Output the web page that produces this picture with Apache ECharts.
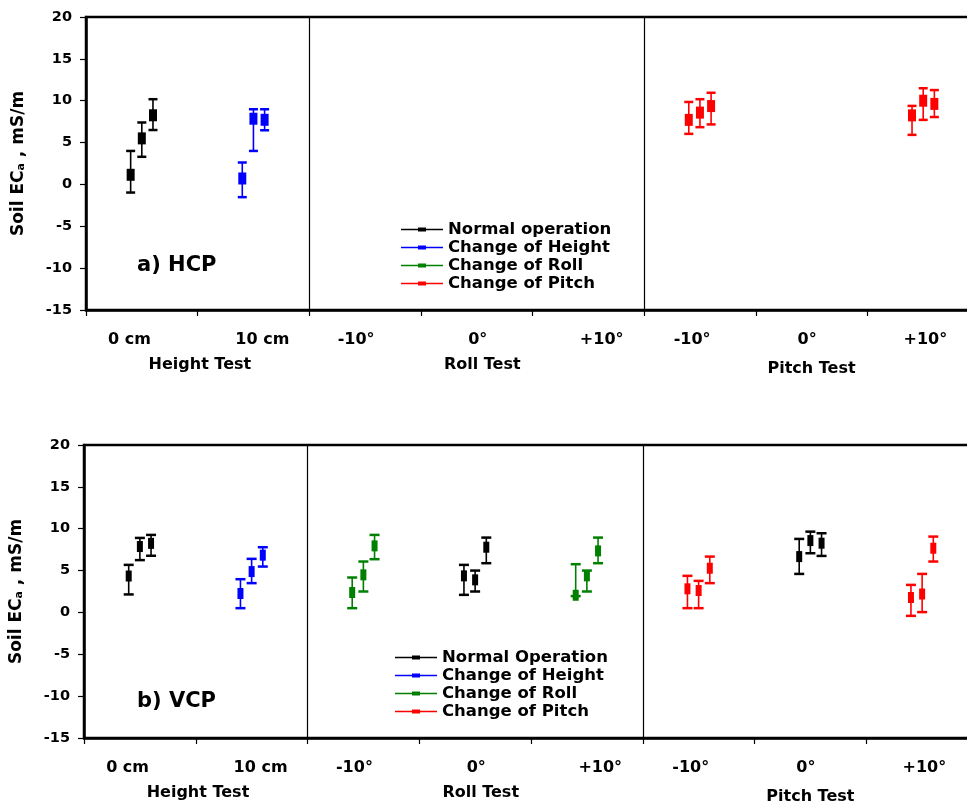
<!DOCTYPE html>
<html>
<head>
<meta charset="UTF-8" />
<title></title>
<style type="text/css">
  html, body { margin: 0; padding: 0; background: #fff; overflow: hidden; }
  #chart { width: 967px; height: 807px; }
</style>
</head>
<body>
<div id="chart"></div>
<script src="https://cdn.jsdelivr.net/npm/echarts@6/dist/echarts.min.js"></script>
<script type="text/javascript">
  // x is in tick units: one unit per test condition, three replicates per condition
  const catNames = ["0 cm", "10 cm", "-10°", "0°", "+10°", "-10°", "0°", "+10°"];
  const catPos = [0.39, 1.58, 2.42, 3.51, 4.62, 5.43, 6.46, 7.52];
  const groupNames = ["Height Test", "Roll Test", "{low|Pitch Test}"];
  const groupPos = [1.02, 3.55, 6.5];
  const dividers = [2, 5];

  // rows are [x, mean, low, high]
  const hcpNormal = [
    [0.4, 1.15, -0.97, 4.0], [0.5, 5.5, 3.3, 7.4], [0.6, 8.26, 6.5, 10.18]
  ];
  const hcpHeight = [
    [1.4, 0.71, -1.52, 2.62], [1.5, 7.85, 4.0, 8.98], [1.6, 7.72, 6.47, 8.98]
  ];
  const hcpPitch = [
    [5.4, 7.71, 6.04, 9.85], [5.5, 8.58, 6.84, 10.18], [5.6, 9.36, 7.17, 10.95],
    [7.4, 8.25, 5.92, 9.38], [7.5, 10.0, 7.71, 11.49], [7.6, 9.62, 8.05, 11.27]
  ];

  const vcpNormal = [
    [0.4, 4.35, 2.15, 5.68], [0.5, 7.87, 6.25, 8.9], [0.6, 8.25, 6.77, 9.26],
    [3.4, 4.37, 2.1, 5.68], [3.5, 3.89, 2.5, 5.0], [3.6, 7.79, 5.88, 8.94],
    [6.4, 6.67, 4.6, 8.78], [6.5, 8.58, 7.07, 9.65], [6.6, 8.27, 6.75, 9.46]
  ];
  const vcpHeight = [
    [1.4, 2.26, 0.51, 3.97], [1.5, 4.88, 3.5, 6.4], [1.6, 6.84, 5.48, 7.79]
  ];
  const vcpRoll = [
    [2.4, 2.38, 0.51, 4.17], [2.5, 4.49, 2.5, 6.08], [2.6, 7.95, 6.36, 9.26],
    [4.4, 2.05, 1.95, 5.76], [4.5, 4.37, 2.5, 5.0], [4.6, 7.35, 5.88, 8.94]
  ];
  const vcpPitch = [
    [5.4, 2.82, 0.51, 4.37], [5.5, 2.62, 0.51, 3.77], [5.6, 5.28, 3.5, 6.67],
    [7.4, 1.78, -0.41, 3.29], [7.5, 2.2, 0.04, 4.6], [7.6, 7.67, 6.08, 9.06]
  ];

  const FONT = "'DejaVu Sans', sans-serif";
  const legendIcon = "path://M0,1.3L42,1.3L42,2.7L0,2.7Z M17,0L25,0L25,4L17,4Z";

  const errorBars = function (capW, boxW, boxH) {
    return function (params, api) {
      const x = api.value(0);
      const mid = api.coord([x, api.value(1)]);
      const lo = api.coord([x, api.value(2)]);
      const hi = api.coord([x, api.value(3)]);
      const c = api.visual("color");
      return {
        type: "group",
        children: [
          { type: "line", shape: { x1: mid[0], y1: lo[1], x2: mid[0], y2: hi[1] }, style: { stroke: c, lineWidth: 1.6 } },
          { type: "line", shape: { x1: mid[0] - capW / 2, y1: hi[1], x2: mid[0] + capW / 2, y2: hi[1] }, style: { stroke: c, lineWidth: 2.5 } },
          { type: "line", shape: { x1: mid[0] - capW / 2, y1: lo[1], x2: mid[0] + capW / 2, y2: lo[1] }, style: { stroke: c, lineWidth: 2.5 } },
          { type: "rect", shape: { x: mid[0] - boxW / 2, y: mid[1] - boxH / 2, width: boxW, height: boxH }, style: { fill: c } }
        ]
      };
    };
  };

  const nearestName = function (names, positions) {
    return function (v) {
      let k = 0;
      for (let i = 1; i < positions.length; i++) {
        if (Math.abs(positions[i] - v) < Math.abs(positions[k] - v)) k = i;
      }
      return names[k];
    };
  };

  const boldText = { fontFamily: FONT, fontWeight: "bold", color: "#000" };

  const makeXAxes = function (gridIndex) {
    return [
      {
        type: "value", gridIndex: gridIndex, position: "bottom", min: 0, max: 8, interval: 1,
        axisLine: { onZero: false, lineStyle: { color: "#000", width: 2.5 } },
        axisTick: { show: true, length: 6, lineStyle: { color: "#000", width: 1.2 } },
        axisLabel: { show: false },
        splitLine: { show: false }
      },
      {
        type: "value", gridIndex: gridIndex, position: "bottom", min: 0, max: 8,
        axisLine: { show: false, onZero: false }, axisTick: { show: false }, splitLine: { show: false },
        axisLabel: Object.assign({ customValues: catPos, formatter: nearestName(catNames, catPos), margin: 22, fontSize: 16 }, boldText)
      },
      {
        type: "value", gridIndex: gridIndex, position: "bottom", min: 0, max: 8,
        axisLine: { show: false, onZero: false }, axisTick: { show: false }, splitLine: { show: false },
        axisLabel: Object.assign({
          customValues: groupPos, formatter: nearestName(groupNames, groupPos), margin: 47, fontSize: 16,
          rich: { low: { fontFamily: FONT, fontWeight: "bold", fontSize: 16, color: "#000", padding: [4, 0, 0, 0] } }
        }, boldText)
      }
    ];
  };

  const makeYAxis = function (gridIndex) {
    return {
      type: "value", gridIndex: gridIndex, min: -15, max: 20, interval: 5,
      name: "Soil EC{sub|a} , mS/m", nameLocation: "middle", nameGap: 59,
      nameTextStyle: Object.assign({ fontSize: 17, rich: { sub: { fontFamily: FONT, fontWeight: "bold", fontSize: 11, verticalAlign: "bottom", color: "#000" } } }, boldText),
      axisLine: { show: true, onZero: false, lineStyle: { color: "#000", width: 2.5 } },
      axisTick: { show: true, length: 6, lineStyle: { color: "#000", width: 1.2 } },
      axisLabel: Object.assign({ margin: 14, fontSize: 14.5 }, boldText),
      splitLine: { show: false }
    };
  };

  const makeSeries = function (name, color, data, xIdx, yIdx, sizes, withDividers) {
    const s = {
      name: name, type: "custom", xAxisIndex: xIdx, yAxisIndex: yIdx,
      itemStyle: { color: color },
      encode: { x: 0, y: [1, 2, 3] },
      renderItem: errorBars(sizes[0], sizes[1], sizes[2]),
      data: data
    };
    if (withDividers) {
      s.markLine = {
        silent: true, symbol: ["none", "none"], label: { show: false },
        lineStyle: { color: "#000", width: 1.2, type: "solid" },
        data: dividers.map(function (v) { return { xAxis: v }; })
      };
    }
    return s;
  };

  const topSizes = [9, 8, 12];
  const botSizes = [10, 6, 11];

  const chart = echarts.init(document.getElementById("chart"));
  chart.setOption({
    backgroundColor: "#fff",
    animation: false,
    title: [
      { text: "a) HCP", left: 137, top: 255, padding: 0, textStyle: Object.assign({ fontSize: 21 }, boldText) },
      { text: "b) VCP", left: 137, top: 691, padding: 0, textStyle: Object.assign({ fontSize: 21 }, boldText) }
    ],
    legend: [
      {
        orient: "vertical", left: 401, top: 221, padding: 0, itemWidth: 42, itemHeight: 4, itemGap: 1,
        icon: legendIcon, selectedMode: false,
        textStyle: Object.assign({ fontSize: 16.5 }, boldText),
        data: ["Normal operation", "Change of Height", "Change of Roll", "Change of Pitch"]
      },
      {
        orient: "vertical", left: 395, top: 649, padding: 0, itemWidth: 42, itemHeight: 4, itemGap: 1,
        icon: legendIcon, selectedMode: false,
        textStyle: Object.assign({ fontSize: 16.5 }, boldText),
        data: ["Normal Operation", "Change of Height", "Change of Roll", "Change of Pitch"]
      }
    ],
    grid: [
      { left: 86, top: 17, width: 893, height: 293, outerBoundsMode: "none", containLabel: false, show: true, borderColor: "#000", borderWidth: 2.5 },
      { left: 84, top: 445, width: 894, height: 293, outerBoundsMode: "none", containLabel: false, show: true, borderColor: "#000", borderWidth: 2.5 }
    ],
    xAxis: makeXAxes(0).concat(makeXAxes(1)),
    yAxis: [makeYAxis(0), makeYAxis(1)],
    series: [
      makeSeries("Normal operation", "#000000", hcpNormal, 0, 0, topSizes, true),
      makeSeries("Change of Height", "#0000ff", hcpHeight, 0, 0, topSizes, false),
      makeSeries("Change of Pitch", "#ff0000", hcpPitch, 0, 0, topSizes, false),
      makeSeries("Normal Operation", "#000000", vcpNormal, 3, 1, botSizes, true),
      makeSeries("Change of Height", "#0000ff", vcpHeight, 3, 1, botSizes, false),
      makeSeries("Change of Roll", "#008000", vcpRoll, 3, 1, botSizes, false),
      makeSeries("Change of Pitch", "#ff0000", vcpPitch, 3, 1, botSizes, false)
    ]
  });
</script>
</body>
</html>
